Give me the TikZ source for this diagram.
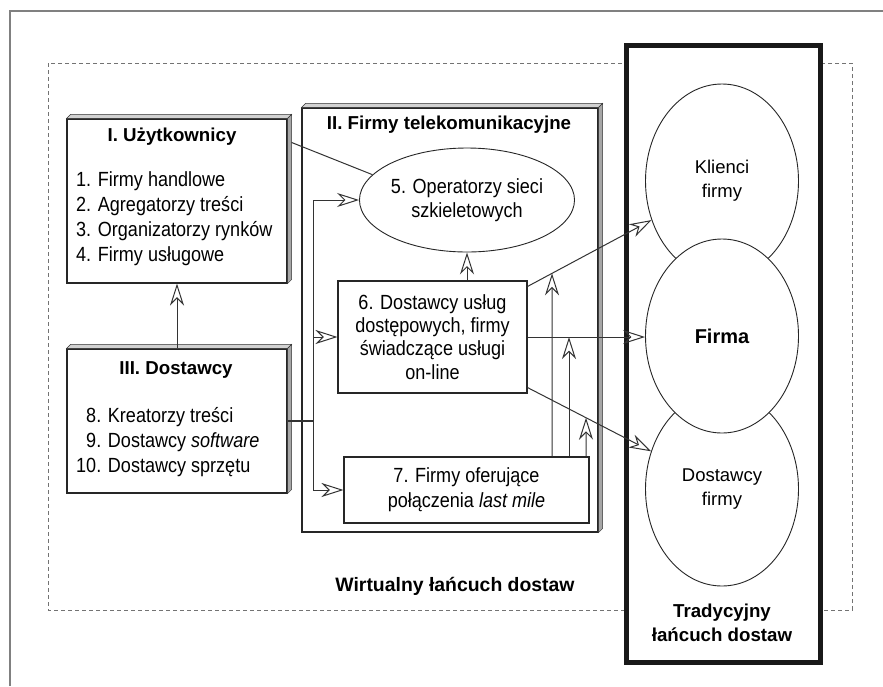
\documentclass[tikz,border=0pt]{standalone}
\usepackage{fontspec}
\setmainfont[FakeStretch=0.88]{Liberation Sans}
\newfontfamily\widefont{Liberation Sans}
\usetikzlibrary{arrows.meta,calc,shapes.geometric}

\tikzset{
  box/.style={draw=black!85, line width=1.1pt, fill=white, inner sep=0pt},
  oval/.style={ellipse, draw=black!85, line width=0.9pt, fill=white, inner sep=0pt},
  txt/.style={inner sep=0pt, font=\fontsize{20.5}{25}\selectfont},
  hdr/.style={inner sep=0pt, font=\widefont\bfseries\fontsize{18.7}{24}\selectfont},
  wtxt/.style={inner sep=0pt, align=center, font=\widefont\fontsize{18.5}{24}\selectfont},
  link/.style={draw=black!80, line width=1pt},
  arr/.style={link, -{Stealth[open, length=22pt, width=14pt, inset=7pt, line width=1pt]}},
}
% 3d edge on the top and right side of a box
\newcommand{\bevelbox}[1]{%
  \filldraw[fill=gray!35, draw=black!80, line width=0.5pt] (#1.north west) -- ++(4,-4) -- ($(#1.north east)+(4,-4)$) -- (#1.north east) -- cycle;
  \filldraw[fill=gray!70, draw=black!80, line width=0.5pt] (#1.north east) -- ($(#1.north east)+(4,-4)$) -- ($(#1.south east)+(4,-4)$) -- (#1.south east) -- cycle;}

\begin{document}
\begin{tikzpicture}[x=1pt,y=-1pt]
\useasboundingbox (0,0) rectangle (883,686);
% frame and the virtual chain
\draw[gray, line width=1.2pt] (10,686) -- (10,11) -- (883,11);
\draw[gray!90!black, line width=1pt, dash pattern=on 4pt off 3pt] (48,63) rectangle (852,610);
\node[hdr, font=\widefont\bfseries\fontsize{19.4}{24}\selectfont] (virt) at (455,586) {Wirtualny łańcuch dostaw};
% traditional chain
\node[draw=black!90, line width=5pt, fill=white, minimum width=194, minimum height=617, inner sep=0pt] (trad) at (723,353.5) {};
\node[hdr, align=center] (tradlbl) at (722,623) {Tradycyjny\\łańcuch dostaw};
\node[oval, minimum width=153, minimum height=194, wtxt] (klienci) at (722,181) {Klienci\\firmy};
\node[oval, minimum width=153, minimum height=194, wtxt] (dostf) at (722,489) {Dostawcy\\firmy};
\node[oval, minimum width=153, minimum height=194, hdr, font=\widefont\bfseries\fontsize{20}{24}\selectfont] (firma) at (722,336) {Firma};
% II
\node[box, minimum width=296, minimum height=424] (tele) at (450,320) {};
\bevelbox{tele}
\node[hdr] (telehdr) at (449,125) {II. Firmy telekomunikacyjne};
\node[oval, minimum width=210, minimum height=104, txt, align=center, font=\fontsize{20.5}{24}\selectfont] (oper) at (467,200) {5. Operatorzy sieci\\szkieletowych};
\node[box, minimum width=189, minimum height=112, txt, align=center, font=\fontsize{20.5}{23.3}\selectfont] (isp) at (432.5,337) {6. Dostawcy usług\\dostępowych, firmy\\świadczące usługi\\on-line};
\node[box, minimum width=245, minimum height=66, txt, align=center] (lastm) at (466.5,490) {7. Firmy oferujące\\połączenia \textit{last mile}};
% I
\node[box, minimum width=220, minimum height=164] (uzyt) at (177,201) {};
\bevelbox{uzyt}
\node[hdr] (uzythdr) at (172,137) {I. Użytkownicy};
\node[txt, align=left, anchor=west] (uzytlst) at (76,219) {1. Firmy handlowe\\2. Agregatorzy treści\\3. Organizatorzy rynków\\4. Firmy usługowe};
% III
\node[box, minimum width=220, minimum height=144] (dost) at (177,421) {};
\bevelbox{dost}
\node[hdr] (dosthdr) at (176,370) {III. Dostawcy};
\node[txt, align=left, anchor=west] (dostlst) at (76,442) {\phantom{1}8. Kreatorzy treści\\\phantom{1}9. Dostawcy \textit{software}\\10. Dostawcy sprzętu};
% connectors
\draw[arr] (dost.north) -- (uzyt.south);
\draw[link] ($(uzyt.north east)+(4,24)$) -- (oper.165);
\coordinate (split) at (313,421);
\draw[link, line width=2pt] (dost.east) -- (split);
\draw[arr] (split) |- (oper.west);
\draw[arr] (split) |- (isp.west);
\draw[arr] (split) |- (lastm.west);
\draw[arr] (isp.north -| oper.south) -- (oper.south);
\coordinate (kfrom) at ($(isp.north east)+(0,6)$);
\coordinate (kto) at (klienci.209);
\coordinate (dfrom) at ($(isp.south east)+(0,-6)$);
\coordinate (dto) at (dostf.152);
\coordinate (ffrom) at (isp.east);
\coordinate (fto) at (isp.east -| firma.west);
\draw[arr] (kfrom) -- (kto);
\draw[arr] (ffrom) -- (fto);
\draw[arr] (dfrom) -- (dto);
\draw[arr] (lastm.north -| 552,0) -- (intersection of 552,0--552,600 and kfrom--kto);
\draw[arr] (lastm.north -| 569,0) -- (intersection of 569,0--569,600 and ffrom--fto);
\draw[arr] (lastm.north -| 586,0) -- (intersection of 586,0--586,600 and dfrom--dto);
\end{tikzpicture}
\end{document}
